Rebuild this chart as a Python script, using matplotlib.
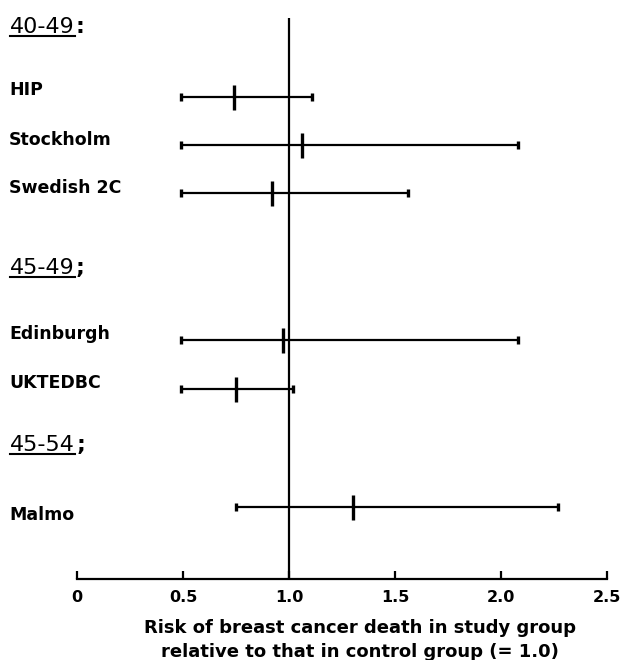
import matplotlib
matplotlib.use("Agg")
import matplotlib.pyplot as plt
from matplotlib.lines import Line2D

plt.rcParams['font.family'] = ['DejaVu Sans']

# data
groups = ['40-49', '45-49', '45-54']
group_sep = [':', ';', ';']
studies = ['HIP', 'Stockholm', 'Swedish 2C', 'Edinburgh', 'UKTEDBC', 'Malmo']
risk = [0.74, 1.06, 0.92, 0.97, 0.75, 1.30]
ci_low = [0.49, 0.49, 0.49, 0.49, 0.49, 0.75]
ci_high = [1.11, 2.08, 1.56, 2.08, 1.02, 2.27]
ticks = [0, 0.5, 1.0, 1.5, 2.0, 2.5]
tick_labels = ['0', '0.5', '1.0', '1.5', '2.0', '2.5']
xlabel = ['Risk of breast cancer death in study group',
          'relative to that in control group (= 1.0)']

# layout (pixels from top of the image)
W, H = 623, 660
AXIS_Y = 579
group_base = [33, 274, 451]
row_y = [97, 145, 193, 340, 389, 507]
label_base = [95, 145, 193, 339, 388, 520]


def fx(x):
    return x / W


def fy(y):
    return 1 - y / H


fig = plt.figure(figsize=(W / 100, H / 100), dpi=100)
ax = fig.add_axes([fx(77), fy(AXIS_Y), fx(607 - 77), AXIS_Y / H])
ax.set_xlim(0, 2.5)
ax.set_ylim(AXIS_Y, 0)

for s in ['top', 'left', 'right']:
    ax.spines[s].set_visible(False)
ax.spines['bottom'].set_linewidth(1.6)
ax.set_yticks([])
ax.set_xticks(ticks)
ax.set_xticklabels(tick_labels, fontsize=11.5, fontweight='bold')
ax.tick_params(axis='x', direction='in', length=6, width=1.6, pad=8)

ax.vlines(1.0, 18, AXIS_Y, color='black', lw=1.6)

for r, lo, hi, y in zip(risk, ci_low, ci_high, row_y):
    ax.errorbar(r, y, xerr=[[r - lo], [hi - r]], fmt='|', color='black',
                ms=18, mew=2.4, elinewidth=1.6, capsize=3, capthick=2)

for name, y in zip(studies, label_base):
    fig.text(fx(9), fy(y), name, fontsize=12.5, fontweight='bold',
             va='baseline', ha='left')

fig.canvas.draw()
renderer = fig.canvas.get_renderer()
for g, sep, y in zip(groups, group_sep, group_base):
    t = fig.text(fx(10), fy(y), g, fontsize=16, va='baseline', ha='left')
    bb = t.get_window_extent(renderer)
    fig.text(bb.x1 / W + 0.002, fy(y), sep, fontsize=16, va='baseline',
             ha='left', fontweight='bold')
    uy = fy(y + 3)
    fig.add_artist(Line2D([bb.x0 / W, bb.x1 / W], [uy, uy], color='black',
                          lw=1.5, transform=fig.transFigure))

fig.text(fx(360), fy(628), xlabel[0], fontsize=13, fontweight='bold',
         ha='center', va='center')
fig.text(fx(360), fy(652), xlabel[1], fontsize=13, fontweight='bold',
         ha='center', va='center')

fig.savefig('out.png', dpi=100)
